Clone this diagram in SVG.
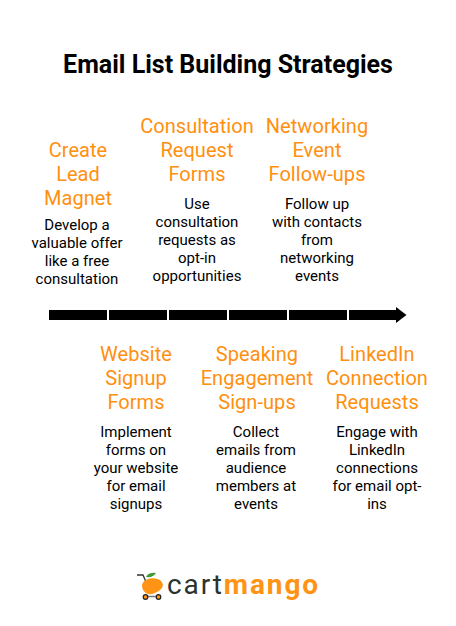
<svg xmlns="http://www.w3.org/2000/svg" width="456" height="626" viewBox="0 0 456 626">
<style>
text{font-family:Roboto,"Liberation Sans",sans-serif;text-anchor:middle}
.t{font-size:20px;fill:#ff8f0f;letter-spacing:0.05px}
.b{font-size:15px;fill:#000}
.s{fill:#000}
</style>
<rect width="456" height="626" fill="#fff"/>
<text x="228" y="73" font-size="25" font-weight="700" fill="#000">Email List Building Strategies</text>
<g id="connectors">
<rect class="s" x="49" y="310" width="58" height="10"/>
<rect class="s" x="109" y="310" width="58" height="10"/>
<rect class="s" x="169" y="310" width="58" height="10"/>
<rect class="s" x="229" y="310" width="58" height="10"/>
<rect class="s" x="289" y="310" width="58" height="10"/>
<path class="s" d="M349 310H396V307L406.500 315L396 323V320H349Z"/>
</g>
<g id="n1"><text class="t" x="78" y="157">Create</text><text class="t" x="78" y="181">Lead</text><text class="t" x="78" y="205">Magnet</text>
<text class="b" x="77" y="230">Develop a</text><text class="b" x="77" y="248">valuable offer</text><text class="b" x="77" y="266">like a free</text><text class="b" x="77" y="284">consultation</text></g>
<g id="n2"><text class="t" x="197" y="133">Consultation</text><text class="t" x="197" y="157">Request</text><text class="t" x="197" y="181">Forms</text>
<text class="b" x="197" y="209">Use</text><text class="b" x="197" y="227">consultation</text><text class="b" x="197" y="245">requests as</text><text class="b" x="197" y="263">opt-in</text><text class="b" x="197" y="281">opportunities</text></g>
<g id="n3"><text class="t" x="317" y="133">Networking</text><text class="t" x="317" y="157">Event</text><text class="t" x="317" y="181">Follow-ups</text>
<text class="b" x="317" y="209">Follow up</text><text class="b" x="317" y="227">with contacts</text><text class="b" x="317" y="245">from</text><text class="b" x="317" y="263">networking</text><text class="b" x="317" y="281">events</text></g>
<g id="n4"><text class="t" x="136" y="361">Website</text><text class="t" x="136" y="385">Signup</text><text class="t" x="136" y="409">Forms</text>
<text class="b" x="136" y="437">Implement</text><text class="b" x="136" y="455">forms on</text><text class="b" x="136" y="473">your website</text><text class="b" x="136" y="491">for email</text><text class="b" x="136" y="509">signups</text></g>
<g id="n5"><text class="t" x="257" y="361">Speaking</text><text class="t" x="257" y="385">Engagement</text><text class="t" x="257" y="409">Sign-ups</text>
<text class="b" x="256" y="437">Collect</text><text class="b" x="256" y="455">emails from</text><text class="b" x="256" y="473">audience</text><text class="b" x="256" y="491">members at</text><text class="b" x="256" y="509">events</text></g>
<g id="n6"><text class="t" x="377" y="361">LinkedIn</text><text class="t" x="377" y="385">Connection</text><text class="t" x="377" y="409">Requests</text>
<text class="b" x="377" y="437">Engage with</text><text class="b" x="377" y="455">LinkedIn</text><text class="b" x="377" y="473">connections</text><text class="b" x="377" y="491">for email opt-</text><text class="b" x="377" y="509">ins</text></g>
<g id="logo">
<path d="M137 575H143L146 582" fill="none" stroke="#333" stroke-width="1.300"/>
<path d="M142 585C143 578 156 576 161 581C166 586 160 592 152 594C146 595 142 591 142 585Z" fill="#ff9314"/>
<path d="M145 596.500H160" stroke="#777" stroke-width="1.500"/>
<path d="M146 577Q149 572 156 573Q153 578 146 577Z" fill="#3f9a35"/>
<circle cx="145.500" cy="597" r="2.300" fill="#ff9314" stroke="#222" stroke-width="1.200"/><circle cx="158.500" cy="597" r="2.300" fill="#ff9314" stroke="#222" stroke-width="1.200"/>
<text x="243.500" y="594" font-size="28" font-family="Inter,Lato,sans-serif" letter-spacing="1.900"><tspan fill="#2b3331">cart</tspan><tspan fill="#ff9314" font-weight="700">mango</tspan></text>
</g>
</svg>
